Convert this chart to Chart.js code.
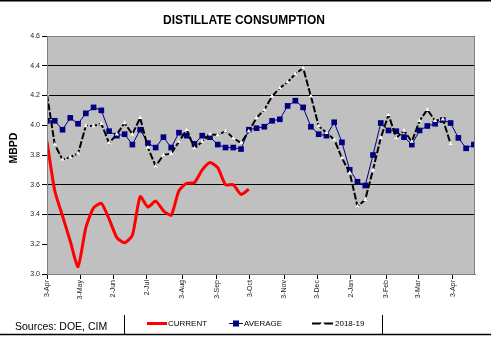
<!DOCTYPE html>
<html>
<head>
<meta charset="utf-8">
<script src="https://cdn.jsdelivr.net/npm/chart.js@4/dist/chart.umd.min.js"></script>
<style>
  html, body { margin: 0; padding: 0; background: #fff; }
  #wrap { width: 491px; height: 337px; position: relative; }
</style>
</head>
<body>
<div id="wrap"><canvas id="c" width="491" height="337"></canvas></div>
<script>
// ---- data (weekly, starting 3-Apr) ----
const current = [3.89, 3.56, 3.39, 3.22, 3.05, 3.31, 3.445, 3.475, 3.37, 3.245, 3.21, 3.26, 3.52, 3.45,
  3.49, 3.425, 3.395, 3.56, 3.61, 3.615, 3.70, 3.75, 3.715, 3.60, 3.60, 3.535, 3.57];
const average = [4.03, 4.03, 3.97, 4.05, 4.01, 4.08, 4.12, 4.10, 3.96, 3.93, 3.94, 3.87, 3.97, 3.88,
  3.85, 3.92, 3.85, 3.95, 3.93, 3.875, 3.93, 3.92, 3.87, 3.85, 3.85, 3.84, 3.97, 3.98,
  3.99, 4.03, 4.04, 4.13, 4.165, 4.12, 3.99, 3.94, 3.93, 4.02, 3.885, 3.70, 3.62, 3.595,
  3.80, 4.015, 3.965, 3.96, 3.92, 3.87, 3.965, 3.995, 4.01, 4.035, 4.015, 3.915, 3.845, 3.87];
const season1819 = [4.207, 3.87, 3.77, 3.785, 3.81, 3.995, 3.995, 4.01, 3.88, 3.94, 4.015, 3.94, 4.05, 3.85,
  3.725, 3.80, 3.81, 3.89, 3.97, 3.845, 3.89, 3.94, 3.935, 3.96, 3.915, 3.88, 3.96, 4.05,
  4.105, 4.195, 4.25, 4.29, 4.345, 4.385, 4.195, 3.995, 3.95, 3.905, 3.78, 3.68, 3.455, 3.50,
  3.70, 3.915, 4.07, 3.915, 3.965, 3.89, 4.03, 4.105, 4.03, 4.04, 3.875];
const tickLabels = ['3-Apr', '3-May', '2-Jun', '2-Jul', '3-Aug', '3-Sep', '3-Oct', '3-Nov', '3-Dec', '2-Jan', '3-Feb', '3-Mar', '3-Apr'];
const tickDays = [0, 30, 60, 90, 122, 153, 183, 214, 244, 274, 306, 335, 366];
const gridLevels = [4.4, 4.2, 3.6, 3.4];

const toPts = arr => arr.map((v, i) => ({ x: i * 7, y: v }));

const plotBg = {
  id: 'plotBg',
  beforeDraw(chart) {
    const { ctx, chartArea: a } = chart;
    ctx.save();
    ctx.fillStyle = '#C0C0C0';
    ctx.fillRect(a.left, a.top, a.right - a.left, a.bottom - a.top);
    ctx.restore();
  },
  afterDatasetsDraw(chart) {
    const { ctx, chartArea: a } = chart;
    ctx.save();
    ctx.strokeStyle = '#808080';
    ctx.lineWidth = 1;
    ctx.strokeRect(a.left + 0.5, a.top + 0.5, a.right - a.left - 1, a.bottom - a.top);
    ctx.restore();
  }
};

const extras = {
  id: 'extras',
  afterDraw(chart) {
    const ctx = chart.ctx;
    ctx.save();
    // frame lines
    ctx.strokeStyle = '#000';
    ctx.lineWidth = 1.5;
    ctx.beginPath(); ctx.moveTo(0, 0.75); ctx.lineTo(491, 0.75); ctx.stroke();
    ctx.beginPath(); ctx.moveTo(0, 334.5); ctx.lineTo(491, 334.5); ctx.stroke();
    ctx.lineWidth = 1;
    ctx.beginPath(); ctx.moveTo(124.5, 315); ctx.lineTo(124.5, 334); ctx.stroke();
    ctx.beginPath(); ctx.moveTo(382.5, 315); ctx.lineTo(382.5, 334); ctx.stroke();

    // title
    ctx.fillStyle = '#000';
    ctx.font = 'bold 12px "Liberation Sans", Arial, sans-serif';
    ctx.textAlign = 'center';
    ctx.textBaseline = 'middle';
    ctx.fillText('DISTILLATE CONSUMPTION', 244, 21);

    // y title
    ctx.save();
    ctx.translate(14, 148);
    ctx.rotate(-Math.PI / 2);
    ctx.font = 'bold 10.5px "Liberation Sans", Arial, sans-serif';
    ctx.fillText('MBPD', 0, 0);
    ctx.restore();

    // sources
    ctx.font = '10.5px "Liberation Sans", Arial, sans-serif';
    ctx.textAlign = 'left';
    ctx.fillStyle = '#000';
    ctx.fillText('Sources: DOE, CIM', 15, 327);

    // legend
    const ly = 323.5;
    ctx.font = '8px "Liberation Sans", Arial, sans-serif';
    // CURRENT
    ctx.strokeStyle = '#FF0000'; ctx.lineWidth = 3;
    ctx.beginPath(); ctx.moveTo(147, ly); ctx.lineTo(167, ly); ctx.stroke();
    ctx.fillStyle = '#000'; ctx.fillText('CURRENT', 168, ly);
    // AVERAGE
    ctx.strokeStyle = '#000080'; ctx.lineWidth = 1;
    ctx.beginPath(); ctx.moveTo(229, ly); ctx.lineTo(243, ly); ctx.stroke();
    ctx.fillStyle = '#000080'; ctx.fillRect(233, ly - 3, 6, 6);
    ctx.fillStyle = '#000'; ctx.fillText('AVERAGE', 244, ly);
    // 2018-19
    ctx.strokeStyle = '#000'; ctx.lineWidth = 2;
    ctx.beginPath(); ctx.moveTo(312, ly); ctx.lineTo(333, ly); ctx.stroke();
    ctx.fillStyle = '#fff';
    ctx.beginPath(); ctx.moveTo(322.5, ly - 2.5); ctx.lineTo(325, ly + 1.5); ctx.lineTo(320, ly + 1.5); ctx.closePath(); ctx.fill();
    ctx.fillStyle = '#000'; ctx.fillText('2018-19', 335, ly);
    ctx.restore();
  }
};

new Chart(document.getElementById('c'), {
  type: 'line',
  data: {
    datasets: [
      {
        label: 'CURRENT', data: toPts(current), borderColor: '#FF0000', borderWidth: 3,
        pointRadius: 0, tension: 0.2, order: 2
      },
      {
        label: 'AVERAGE', data: toPts(average), borderColor: '#000080', borderWidth: 1,
        pointStyle: 'rect', pointRadius: 4, pointBackgroundColor: '#000080', pointBorderColor: '#000080',
        pointBorderWidth: 0, tension: 0, order: 1
      },
      {
        label: '2018-19', data: toPts(season1819), borderColor: '#000', borderWidth: 2, borderDash: [7, 2],
        pointStyle: 'triangle', pointRadius: 2.5, pointBackgroundColor: '#fff', pointBorderColor: '#fff',
        pointBorderWidth: 0, tension: 0, order: 0
      }
    ]
  },
  options: {
    responsive: false,
    animation: false,
    events: [],
    layout: { padding: { top: 36, left: 0, right: 16, bottom: 0 } },
    plugins: { legend: { display: false }, title: { display: false }, tooltip: { enabled: false } },
    scales: {
      x: {
        type: 'linear', min: 0, max: 386,
        afterFit(s) { s.height = 63; },
        afterBuildTicks(s) { s.ticks = tickDays.map(v => ({ value: v })); },
        grid: { drawOnChartArea: false, drawTicks: true, tickLength: 5, tickColor: '#000', color: '#000' },
        border: { display: true, color: '#808080' },
        ticks: {
          autoSkip: false, maxRotation: 90, minRotation: 90, padding: 1,
          color: '#222', font: { size: 7, family: '"Liberation Sans", Arial, sans-serif' },
          callback(v) { const i = tickDays.indexOf(v); return i >= 0 ? tickLabels[i] : ''; }
        }
      },
      y: {
        min: 3.0, max: 4.6,
        afterFit(s) { s.width = 47; },
        grid: {
          color(c) {
            const v = c.tick ? c.tick.value : null;
            return (v !== null && gridLevels.some(g => Math.abs(g - v) < 1e-6)) ? '#000' : 'rgba(0,0,0,0)';
          },
          lineWidth: 1, tickLength: 5, tickColor: '#000'
        },
        border: { display: true, color: '#808080' },
        ticks: {
          stepSize: 0.2, padding: 2, color: '#222',
          font: { size: 7, family: '"Liberation Sans", Arial, sans-serif' },
          callback(v) { return Number(v).toFixed(1); }
        }
      }
    }
  },
  plugins: [plotBg, extras]
});
</script>
</body>
</html>
